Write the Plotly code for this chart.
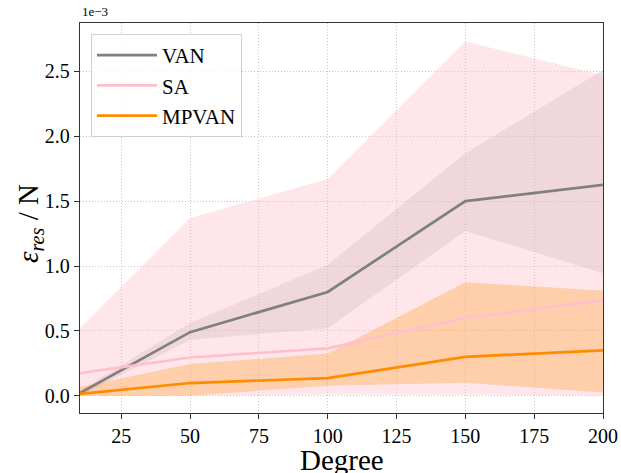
import plotly.graph_objects as go

# Degree values (x)
degree = [10, 50, 100, 150, 200]

# values in units of 1e-3
van_mean = [0.02, 0.49, 0.80, 1.50, 1.625]
van_low = [0.00, 0.43, 0.52, 1.27, 0.945]
van_high = [0.04, 0.56, 1.01, 1.87, 2.51]

sa_mean = [0.175, 0.295, 0.365, 0.60, 0.735]
sa_low = [0.00, 0.00, 0.01, 0.01, 0.00]
sa_high = [0.52, 1.37, 1.67, 2.73, 2.47]

mp_mean = [0.015, 0.098, 0.136, 0.30, 0.35]
mp_low = [0.00, 0.00, 0.077, 0.10, 0.025]
mp_high = [0.067, 0.245, 0.325, 0.875, 0.81]

y_ticks = [0.0, 0.5, 1.0, 1.5, 2.0, 2.5]
x_ticks = [25, 50, 75, 100, 125, 150, 175, 200]

FONT = "Liberation Serif"

fig = go.Figure()

def band(low, high, color):
    fig.add_trace(go.Scatter(
        x=degree + degree[::-1], y=high + low[::-1],
        fill="toself", fillcolor=color, line=dict(width=0),
        mode="lines", hoverinfo="skip", showlegend=False))

band(van_low, van_high, "rgba(128,128,128,0.2)")
band(sa_low, sa_high, "rgba(255,192,203,0.4)")
band(mp_low, mp_high, "rgba(255,140,0,0.27)")

fig.add_trace(go.Scatter(x=degree, y=van_mean, mode="lines", name="VAN",
                         line=dict(color="#808080", width=2.7)))
fig.add_trace(go.Scatter(x=degree, y=sa_mean, mode="lines", name="SA",
                         line=dict(color="#FFC0CB", width=2.7)))
fig.add_trace(go.Scatter(x=degree, y=mp_mean, mode="lines", name="MPVAN",
                         line=dict(color="#FF8C00", width=2.7)))

axis_common = dict(
    showline=True, linecolor="#333333", linewidth=1.3, mirror=True,
    ticks="outside", ticklen=5, tickwidth=1.2, tickcolor="#333333",
    showgrid=True, gridcolor="rgba(175,175,175,0.7)", griddash="1px,2px", gridwidth=1,
    zeroline=False, automargin=False,
    tickfont=dict(family=FONT, size=20, color="black"),
)

fig.update_layout(
    width=621, height=473, autosize=False,
    margin=dict(l=80, r=18, t=23, b=60, autoexpand=False),
    plot_bgcolor="white", paper_bgcolor="white",
    font=dict(family=FONT, color="black"),
    xaxis=dict(range=[10, 200], tickvals=x_ticks, **axis_common),
    yaxis=dict(range=[-0.133, 2.873], tickvals=y_ticks, tickformat=".1f", **axis_common),
    legend=dict(x=0.021, y=0.972, xanchor="left", yanchor="top",
                bgcolor="rgba(255,255,255,0.8)", bordercolor="#d0d0d0", borderwidth=1,
                font=dict(family=FONT, size=21), itemwidth=60),
    showlegend=True,
)

fig.add_annotation(text="Degree", xref="paper", yref="paper", x=0.5, y=0,
                   xanchor="center", yanchor="top", yshift=-29, showarrow=False,
                   font=dict(family=FONT, size=29, color="black"))
fig.add_annotation(text="<i>ε<sub>res</sub></i> / N", xref="paper", yref="paper",
                   x=0, y=0.5, xanchor="center", yanchor="middle", xshift=-50, yshift=-6,
                   textangle=-90, showarrow=False,
                   font=dict(family=FONT, size=29, color="black"))
fig.add_annotation(text="1e\u22123", xref="paper", yref="paper", x=0, y=1.0,
                   xanchor="left", yanchor="bottom", showarrow=False,
                   font=dict(family=FONT, size=13, color="black"), yshift=2)

fig.write_html("out.html", config={"displayModeBar": False},
               post_script="document.body.style.margin='0';document.body.style.overflow='hidden';")
